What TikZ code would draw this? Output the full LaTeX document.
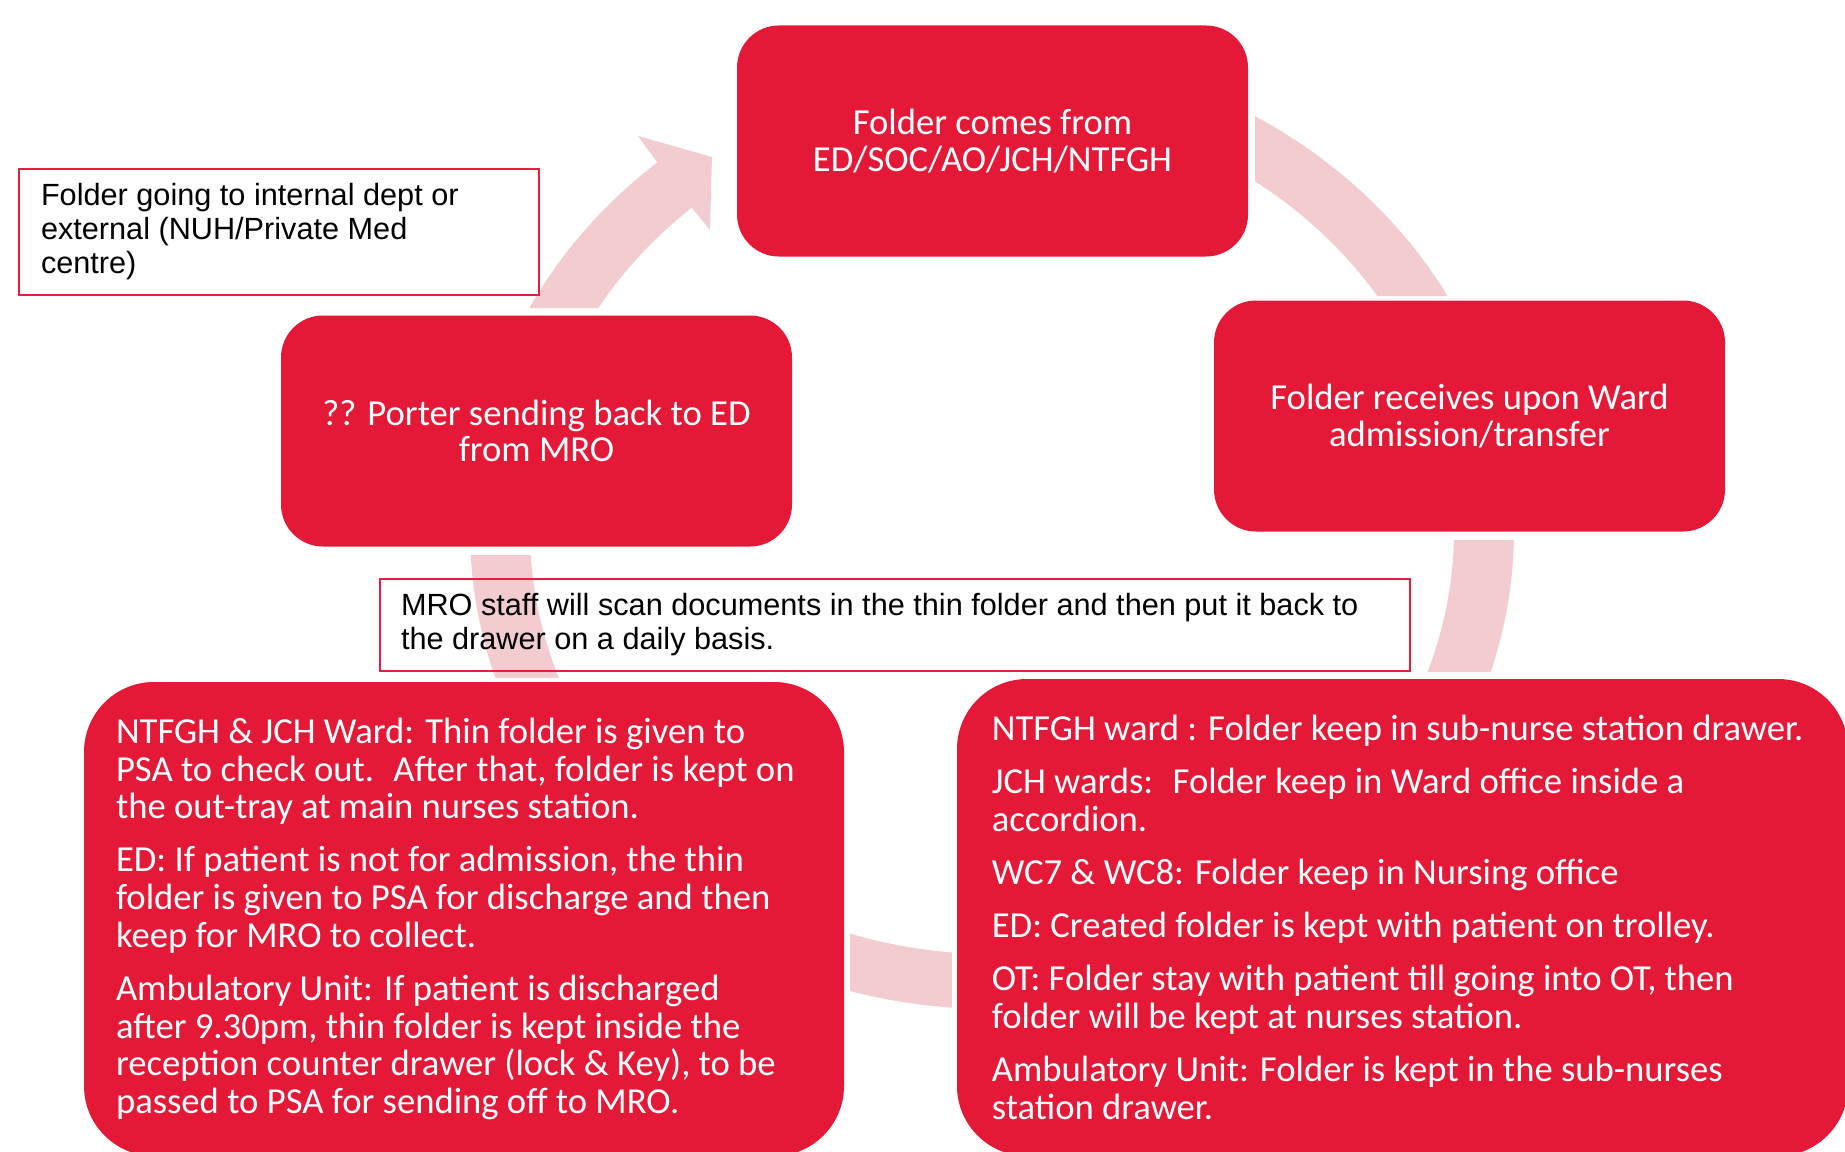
\documentclass[tikz,border=0pt]{standalone}
\usepackage{fontspec}
\setmainfont{Carlito}
\newfontfamily\notefont{Liberation Sans}
\definecolor{boxred}{RGB}{227,25,55}
\definecolor{ringpink}{RGB}{242,204,207}
\definecolor{noteline}{RGB}{232,30,62}
\tikzset{
  stepbox/.style={rectangle, rounded corners=31.5pt, fill=boxred, text=white,
    align=center, inner sep=0pt, minimum width=383.25pt, minimum height=173.25pt,
    font=\fontsize{27.5}{27.4}\selectfont},
  listbox/.style={rectangle, rounded corners=52.5pt, fill=boxred, text=white,
    align=flush left, inner sep=0pt, font=\fontsize{27.5}{28.3}\selectfont},
  notebox/.style={rectangle, draw=noteline, line width=1.2pt, align=flush left,
    inner sep=0pt, font=\notefont\fontsize{23}{25.5}\selectfont},
}
\begin{document}
\begin{tikzpicture}[x=0.75pt,y=0.75pt,yscale=-1,xscale=1]
\useasboundingbox (0,0) rectangle (1845,1152);

%Shape: Ring part top right
\begin{scope}
\clip (1255,0) rectangle (1700,295);
\fill [ringpink, even odd rule] (992,530) ellipse (522 and 479) (992,530) ellipse (462 and 424);
\end{scope}
%Shape: Ring part right
\begin{scope}
\clip (1300,540) rectangle (1700,671);
\fill [ringpink, even odd rule] (992,530) ellipse (522 and 479) (992,530) ellipse (462 and 424);
\end{scope}
%Shape: Ring part bottom
\begin{scope}
\clip (850,700) rectangle (952,1100);
\fill [ringpink, even odd rule] (992,530) ellipse (522 and 479) (992,530) ellipse (462 and 424);
\end{scope}
%Shape: Ring part left
\begin{scope}
\clip (300,555) rectangle (700,677);
\fill [ringpink, even odd rule] (992,530) ellipse (522 and 479) (992,530) ellipse (462 and 424);
\end{scope}
%Shape: Ring part top left, with head
\begin{scope}
\clip (420,308) -- (420,60) -- (582,60) -- (727,254) -- (727,308) -- cycle;
\fill [ringpink, even odd rule] (992,530) ellipse (522 and 479) (992,530) ellipse (462 and 424);
\end{scope}
\fill [ringpink] (657,162) -- (638,136) -- (712,157) -- (710,230) -- (692,208) -- cycle;

% Red boxes
\node [stepbox] (comes) at (992.5,141) {Folder comes from\\ED/SOC/AO/JCH/NTFGH};
\node [stepbox] (receives) at (1469.5,416) {Folder receives upon Ward\\admission/transfer};
\node [stepbox] (porter) at (536.5,431) {?? Porter sending back to ED\\from MRO};

% Discharge box
\node [listbox, minimum width=570pt, minimum height=355.5pt, text width=522pt] (discharge) at (464,919)
  {NTFGH \& JCH Ward: Thin folder is given to\\
   PSA to check out.~ After that, folder is kept on\\
   the out-tray at main nurses station.\\[11.5pt]
   ED: If patient is not for admission, the thin\\
   folder is given to PSA for discharge and then\\
   keep for MRO to collect.\\[11.5pt]
   Ambulatory Unit: If patient is discharged\\
   after 9.30pm, thin folder is kept inside the\\
   reception counter drawer (lock \& Key), to be\\
   passed to PSA for sending off to MRO.};

% Keeping box
\node [listbox, minimum width=668.25pt, minimum height=357.75pt, text width=616pt] (keeping) at (1402.5,917.5)
  {NTFGH ward : Folder keep in sub-nurse station drawer.\\[11.5pt]
   JCH wards:~ Folder keep in Ward office inside a\\
   accordion.\\[11.5pt]
   WC7 \& WC8: Folder keep in Nursing office\\[11.5pt]
   ED: Created folder is kept with patient on trolley.\\[11.5pt]
   OT: Folder stay with patient till going into OT, then\\
   folder will be kept at nurses station.\\[11.5pt]
   Ambulatory Unit: Folder is kept in the sub-nurses\\
   station drawer.};

% Note boxes
\node [notebox, fill=white, minimum width=390pt, minimum height=94.5pt, text width=357pt] (going) at (279,232)
  {Folder going to internal dept or\\external (NUH/Private Med\\centre)};
\node [notebox, minimum width=772.5pt, minimum height=69pt, text width=741pt] (scan) at (895,625)
  {MRO staff will scan documents in the thin folder and then put it back to\\the drawer on a daily basis.};

\end{tikzpicture}
\end{document}
